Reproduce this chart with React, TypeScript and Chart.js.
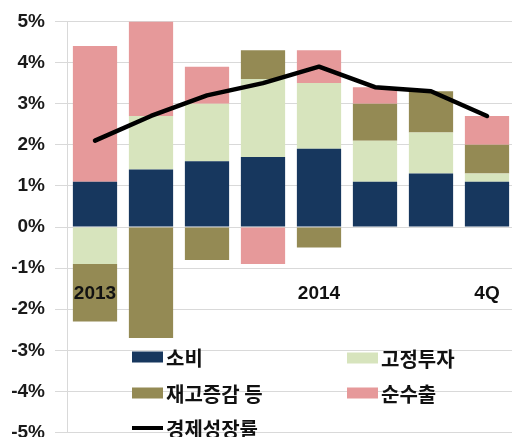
import React, { useEffect, useRef } from "react";
import { Chart, registerables } from "chart.js";

Chart.register(...registerables);

const categories = ["2013", "", "", "", "2014", "", "", "4Q"];
const consumption = [1.1, 1.4, 1.6, 1.7, 1.9, 1.1, 1.3, 1.1];
const fixedInvestment = [-0.9, 1.3, 1.4, 1.9, 1.6, 1.0, 1.0, 0.2];
const inventory = [-1.4, -2.7, -0.8, 0.7, -0.5, 0.9, 1.0, 0.7];
const netExports = [3.3, 2.3, 0.9, -0.9, 0.8, 0.4, 0, 0.7];
const growthRate = [2.1, 2.7, 3.2, 3.5, 3.9, 3.4, 3.3, 2.7];
const seriesNames = ["소비", "고정투자", "재고증감 등", "순수출", "경제성장률"];
const yTicks = [-5, -4, -3, -2, -1, 0, 1, 2, 3, 4, 5];

const COLORS = {
  navy: "#17375E",
  green: "#D7E4BD",
  olive: "#948A54",
  pink: "#E6999A",
  line: "#000000",
};

const TEXT_FONT = "bold 19px 'Liberation Sans', Arial, sans-serif";
const KR_FONT = "bold 20px 'Noto Sans CJK KR', sans-serif";

const overlayPlugin = {
  id: "overlay",
  afterDraw(chart: any) {
    const ctx = chart.ctx;
    const x = chart.scales.x;
    const y = chart.scales.y;
    ctx.save();
    ctx.font = TEXT_FONT;
    ctx.fillStyle = "#111";
    ctx.textAlign = "center";
    ctx.textBaseline = "middle";
    const labelY = y.getPixelForValue(-1.62);
    chart.data.labels.forEach((lab: string, i: number) => {
      if (lab) ctx.fillText(lab, x.getPixelForValue(i), labelY);
    });
    const ds = chart.data.datasets;
    const items = [
      { d: ds[1], bx: 132, cy: 357 },
      { d: ds[2], bx: 347, cy: 358 },
      { d: ds[3], bx: 132, cy: 393 },
      { d: ds[4], bx: 347, cy: 393 },
      { d: ds[0], bx: 132, cy: 428 },
    ];
    ctx.font = KR_FONT;
    ctx.textAlign = "left";
    items.forEach((it) => {
      if (it.d.type === "line") {
        ctx.strokeStyle = it.d.borderColor;
        ctx.lineWidth = 4;
        ctx.beginPath();
        ctx.moveTo(it.bx, it.cy);
        ctx.lineTo(it.bx + 31, it.cy);
        ctx.stroke();
      } else {
        ctx.fillStyle = it.d.backgroundColor;
        ctx.fillRect(it.bx, it.cy - 5.5, 31, 11);
      }
      ctx.fillStyle = "#111";
      ctx.fillText(it.d.label, it.bx + 34, it.cy + 1);
    });
    ctx.restore();
  },
};

export default function App() {
  const ref = useRef<HTMLCanvasElement | null>(null);
  useEffect(() => {
    if (!ref.current) return;
    const barCommon = { stack: "s", order: 1, borderWidth: 0, categoryPercentage: 1, barPercentage: 0.79 };
    const chart = new Chart(ref.current, {
      type: "bar",
      data: {
        labels: categories,
        datasets: [
          {
            type: "line",
            label: seriesNames[4],
            data: growthRate,
            borderColor: COLORS.line,
            borderWidth: 4.5,
            pointRadius: 0,
            tension: 0,
            stack: "line",
            order: 0,
            borderJoinStyle: "round",
            borderCapStyle: "round",
          } as any,
          { type: "bar", label: seriesNames[0], data: consumption, backgroundColor: COLORS.navy, ...barCommon } as any,
          { type: "bar", label: seriesNames[1], data: fixedInvestment, backgroundColor: COLORS.green, ...barCommon } as any,
          { type: "bar", label: seriesNames[2], data: inventory, backgroundColor: COLORS.olive, ...barCommon } as any,
          { type: "bar", label: seriesNames[3], data: netExports, backgroundColor: COLORS.pink, ...barCommon } as any,
        ],
      },
      options: {
        responsive: false,
        animation: false,
        layout: { padding: { top: 20, bottom: 5, left: 0, right: 0 } },
        plugins: { legend: { display: false }, tooltip: { enabled: false } },
        scales: {
          x: { display: false, stacked: true },
          y: {
            stacked: true,
            min: yTicks[0],
            max: yTicks[yTicks.length - 1],
            afterFit: (s: any) => {
              s.width = 67;
            },
            afterBuildTicks: (s: any) => {
              s.ticks = yTicks.map((v) => ({ value: v }));
            },
            ticks: {
              padding: 10,
              color: "#1a1a1a",
              font: { family: "'Liberation Sans', Arial, sans-serif", size: 19, weight: "bold" },
              callback: (v: any) => `${v}%`,
            },
            grid: { color: "#d9d9d9", lineWidth: 1, tickLength: 12 },
            border: { color: "#d9d9d9" },
          },
        },
      } as any,
      plugins: [overlayPlugin],
    });
    return () => chart.destroy();
  }, []);
  return (
    <div style={{ position: "fixed", left: 0, top: 0, width: 515, height: 454, background: "#fff" }}>
      <canvas ref={ref} width={515} height={454} />
    </div>
  );
}
